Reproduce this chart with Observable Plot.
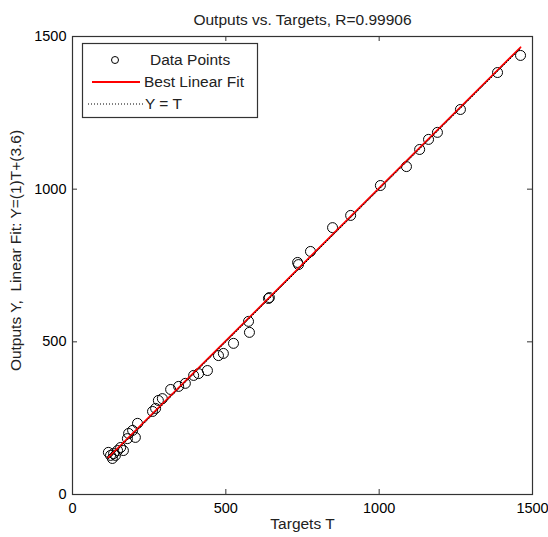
<!DOCTYPE html>
<html>
<head>
<meta charset="utf-8">
<script src="https://cdn.jsdelivr.net/npm/d3@7"></script>
<script src="https://cdn.jsdelivr.net/npm/@observablehq/plot@0.6"></script>
<style>
  html, body { margin: 0; padding: 0; background: #fff; }
</style>
</head>
<body>
<div id="chart"></div>
<script>
// Targets T (x) and Outputs Y (y)
const targets = [1461, 1386, 1265, 1190, 1161, 1132, 1089, 1004, 907, 848, 776, 734, 737, 639, 642,
  574, 577, 525, 492, 476, 440, 411, 395, 368, 346, 320, 293, 280, 271, 261,
  212, 196, 183, 205, 179, 166, 157, 147, 134, 124, 130, 117, 140];
const outputs = [1438, 1382, 1261, 1186, 1163, 1130, 1074, 1012, 914, 874, 796, 760, 753, 642, 645,
  567, 531, 495, 462, 455, 406, 396, 390, 364, 354, 344, 314, 308, 282, 272,
  233, 210, 200, 187, 183, 144, 154, 144, 134, 128, 118, 138, 128];
const tickValues = [0, 500, 1000, 1500];
const fitSlope = 1;
const fitIntercept = 3.6;
const R = "0.99906";

const points = targets.map((t, i) => ({t, y: outputs[i]}));
const all = targets.concat(outputs);
const lim = [d3.min(all), d3.max(all)];
const fitLine = lim.map(v => ({t: v, y: fitSlope * v + fitIntercept}));
const idLine = lim.map(v => ({t: v, y: v}));

const W = 548, H = 537;
const mL = 72, mR = 16, mT = 36, mB = 43;
const innerW = W - mL - mR, innerH = H - mT - mB;
const font = "'Liberation Sans', Arial, sans-serif";
const fs = 15.5;
const tfs = 14.5;

const chart = Plot.plot({
  width: W,
  height: H,
  marginLeft: mL,
  marginRight: mR,
  marginTop: mT,
  marginBottom: mB,
  style: {fontFamily: font, fontSize: fs + "px", background: "#fff", color: "#000"},
  x: {domain: [0, 1500]},
  y: {domain: [0, 1500]},
  marks: [
    Plot.axisX({ticks: tickValues, tickSize: 0, tickPadding: 8, label: null, fontSize: tfs, tickFormat: d => String(d)}),
    Plot.axisY({ticks: tickValues, tickSize: 0, tickPadding: 6, label: null, fontSize: tfs, tickFormat: d => String(d)}),
    // inward ticks on all four sides
    Plot.tickX(tickValues, {x: d => d, insetTop: innerH - 5, stroke: "#333"}),
    Plot.tickX(tickValues, {x: d => d, insetBottom: innerH - 5, stroke: "#333"}),
    Plot.tickY(tickValues, {y: d => d, insetRight: innerW - 5, stroke: "#333"}),
    Plot.tickY(tickValues, {y: d => d, insetLeft: innerW - 5, stroke: "#333"}),
    Plot.dot(points, {x: "t", y: "y", r: 5, stroke: "#000", fill: "none", strokeWidth: 1}),
    Plot.line(fitLine, {x: "t", y: "y", stroke: "#ff0000", strokeWidth: 1.8}),
    Plot.line(idLine, {x: "t", y: "y", stroke: "#000", strokeWidth: 1, strokeDasharray: "1,2"}),
    Plot.frame({stroke: "#333", strokeWidth: 1.2}),
    Plot.text([`Outputs vs. Targets, R=${R}`], {frameAnchor: "top", dy: -23, fontSize: fs, fill: "#222"}),
    Plot.text(["Targets T"], {frameAnchor: "bottom", dy: 34, fontSize: fs, fill: "#222"}),
    Plot.text([`Outputs Y,  Linear Fit: Y=(${fitSlope})T+(${fitIntercept})`], {frameAnchor: "left", textAnchor: "middle", dx: -56, dy: -15, rotate: -90, fontSize: fs, fill: "#222"})
  ]
});

// Legend (MATLAB style box)
const svg = d3.select(chart);
const lg = svg.append("g").attr("font-family", font).attr("font-size", fs).attr("text-anchor", "start");
lg.append("rect").attr("x", 82.5).attr("y", 43.5).attr("width", 175).attr("height", 74)
  .attr("fill", "#fff").attr("stroke", "#333").attr("stroke-width", 1.2);
const rows = [
  {label: "Data Points", y: 60, tx: 150},
  {label: "Best Linear Fit", y: 82, tx: 144},
  {label: "Y = T", y: 104, tx: 145}
];
lg.append("circle").attr("cx", 115).attr("cy", rows[0].y).attr("r", 3.5)
  .attr("fill", "none").attr("stroke", "#000");
lg.append("line").attr("x1", 92).attr("x2", 140).attr("y1", rows[1].y).attr("y2", rows[1].y)
  .attr("stroke", "#ff0000").attr("stroke-width", 1.8);
lg.append("line").attr("x1", 88).attr("x2", 143).attr("y1", rows[2].y).attr("y2", rows[2].y)
  .attr("stroke", "#000").attr("stroke-dasharray", "1,2");
rows.forEach(r => {
  lg.append("text").attr("x", r.tx).attr("y", r.y).attr("dy", "0.35em").attr("fill", "#222").text(r.label);
});

document.getElementById("chart").appendChild(chart);
</script>
</body>
</html>
